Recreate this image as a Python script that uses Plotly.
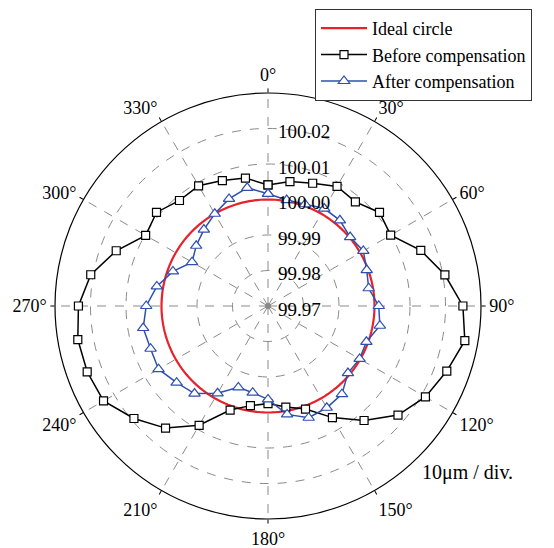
import plotly.graph_objects as go

theta_deg = [0, 10, 20, 30, 40, 50, 60, 70, 80, 90, 100, 110, 120, 130, 140, 150, 160, 170,
             180, 190, 200, 210, 220, 230, 240, 250, 260, 270, 280, 290, 300, 310, 320, 330, 340, 350]

before_r = [100.0041, 100.0056, 100.0068, 100.0089, 100.0083, 100.0110, 100.0099, 100.0158,
            100.0206, 100.0249, 100.0263, 100.0236, 100.0212, 100.0178, 100.0121, 100.0063,
            100.0009, 99.9989, 99.9975, 99.9985, 100.0012, 100.0088, 100.0149, 100.0193,
            100.0235, 100.0242, 100.0244, 100.0234, 100.0207, 100.0155, 100.0098, 100.0110,
            100.0088, 100.0091, 100.0076, 100.0066]

after_r = [100.0016, 100.0003, 100.0005, 100.0017, 100.0015, 100.0002, 100.0010, 99.9996,
           99.9988, 100.0012, 100.0020, 99.9995, 99.9998, 99.9994, 100.0024, 100.0031,
           100.0035, 100.0010, 99.9963, 99.9948, 99.9944, 99.9984, 100.0022, 100.0036,
           100.0056, 100.0052, 100.0057, 100.0043, 100.0018, 99.9985, 99.9947, 99.9964,
           99.9981, 100.0000, 100.0021, 100.0038]

ideal_theta = list(range(0, 361, 2))
ideal_radius = 100.00
ideal_r = [ideal_radius for _ in ideal_theta]

radial_ticks = [99.97, 99.98, 99.99, 100.00, 100.01, 100.02]
radial_ticktext = ["99.97", "99.98", "99.99", "100.00", "100.01", "100.02"]
angle_ticks = [0, 30, 60, 90, 120, 150, 180, 210, 240, 270, 300, 330]
angle_ticktext = [f"{a}°" for a in angle_ticks]

FONT = "Liberation Serif, Times New Roman, serif"

# page body has an 8px default margin; compensate so the chart lands where the reference has it
OFF = 8
L, R, T, B = 55 - OFF, 73 + OFF, 93 - OFF, 29 + OFF
PW = 554 - L - R
PH = 548 - T - B


def px_to_paper_x(px):
    return (px - OFF - L) / PW


def px_to_paper_y(py):
    return (548 - B - (py - OFF)) / PH


fig = go.Figure()
fig.add_trace(go.Scatterpolar(
    r=ideal_r, theta=ideal_theta, mode="lines", name="Ideal circle",
    line=dict(color="#e8212b", width=2.2)))
fig.add_trace(go.Scatterpolar(
    r=before_r + before_r[:1], theta=theta_deg + [360], mode="lines+markers",
    name="Before compensation",
    line=dict(color="black", width=1.5),
    marker=dict(symbol="square", size=8, color="white", line=dict(color="black", width=1.2))))
fig.add_trace(go.Scatterpolar(
    r=after_r + after_r[:1], theta=theta_deg + [360], mode="lines+markers",
    name="After compensation",
    line=dict(color="#2e4fae", width=1.5),
    marker=dict(symbol="triangle-up", size=10, color="white", line=dict(color="#2e4fae", width=1.2))))
fig.add_trace(go.Scatterpolar(
    r=[99.97], theta=[0], mode="markers", showlegend=False, hoverinfo="skip",
    marker=dict(size=6, color="#888888")))

fig.update_layout(
    width=554, height=548,
    margin=dict(l=L, r=R, t=T, b=B, autoexpand=False),
    paper_bgcolor="white", plot_bgcolor="white",
    font=dict(family=FONT, size=19, color="black"),
    polar=dict(
        bgcolor="white",
        domain=dict(x=[0, 1], y=[0, 1]),
        angularaxis=dict(
            direction="clockwise", rotation=90,
            tickvals=angle_ticks, ticktext=angle_ticktext,
            showline=True, linecolor="black", linewidth=1.2,
            ticks="outside", ticklen=4, tickcolor="black",
            showgrid=True, gridcolor="#8a8a8a", griddash="dash", gridwidth=1,
            tickfont=dict(family=FONT, size=18, color="black")),
        radialaxis=dict(
            range=[99.97, 100.03], angle=90,
            tickvals=radial_ticks, ticktext=radial_ticktext,
            showline=False, ticks="",
            showgrid=True, gridcolor="#8a8a8a", griddash="dash", gridwidth=1,
            tickfont=dict(family=FONT, size=19, color="black"))),
    legend=dict(
        x=px_to_paper_x(315), y=px_to_paper_y(9),
        xanchor="left", yanchor="top",
        bordercolor="#333333", borderwidth=1, bgcolor="white",
        font=dict(family=FONT, size=18, color="black"),
        tracegroupgap=0, itemwidth=46),
    annotations=[dict(
        text="10μm / div.", xref="paper", yref="paper",
        x=px_to_paper_x(420), y=px_to_paper_y(472), xanchor="left", yanchor="middle",
        showarrow=False, font=dict(family=FONT, size=20, color="black"))],
)

fig.write_html("out.html")
